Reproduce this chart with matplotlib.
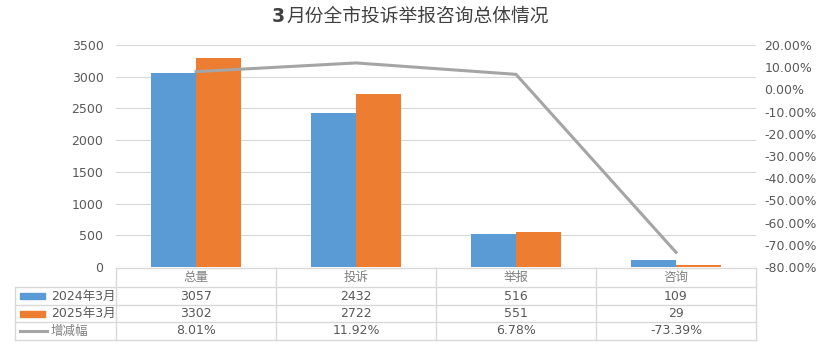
import matplotlib
matplotlib.use("Agg")
import matplotlib.pyplot as plt
from matplotlib.lines import Line2D
from matplotlib.patches import Rectangle
import numpy as np

categories = ["总量", "投诉", "举报", "咨询"]
series_names = ["2024年3月", "2025年3月", "增减幅"]
values_2024 = [3057, 2432, 516, 109]
values_2025 = [3302, 2722, 551, 29]
change_pct = [8.01, 11.92, 6.78, -73.39]
left_ticks = [0, 500, 1000, 1500, 2000, 2500, 3000, 3500]
right_ticks = [20, 10, 0, -10, -20, -30, -40, -50, -60, -70, -80]
title_num = "3"
title_rest = "月份全市投诉举报咨询总体情况"

C_BLUE = "#5b9bd5"
C_ORANGE = "#ed7d31"
C_GRAY = "#a5a5a5"
C_TEXT = "#595959"
C_GRID = "#d9d9d9"

FONTS = ["DejaVu Sans", "Noto Sans CJK SC"]
CJK = ["Noto Sans CJK SC", "DejaVu Sans"]
plt.rcParams["font.family"] = FONTS

W, H = 820, 351
fig = plt.figure(figsize=(W / 100, H / 100), dpi=100)

def fx(px):
    return px / W

def fy(py):
    return 1 - py / H

L, R, T, B = 116, 756, 45, 267
ax = fig.add_axes([fx(L), fy(B), fx(R) - fx(L), fy(T) - fy(B)])
x = np.arange(len(categories))
bw = 0.284
ax.bar(x - bw / 2, values_2024, bw, color=C_BLUE, zorder=3)
ax.bar(x + bw / 2, values_2025, bw, color=C_ORANGE, zorder=3)
ax.set_xlim(-0.5, len(categories) - 0.5)
ax.set_ylim(0, 3500)
ax.set_yticks(left_ticks)
ax.set_yticklabels([str(t) for t in left_ticks])
ax.yaxis.grid(True, color=C_GRID, linewidth=0.8, zorder=0)
ax.set_xticks([])
for s in ax.spines.values():
    s.set_visible(False)
ax.tick_params(axis="y", length=0, labelsize=9, colors=C_TEXT, pad=9)

ax2 = ax.twinx()
ax2.plot(x, change_pct, color=C_GRAY, linewidth=2.2, zorder=4)
ax2.set_ylim(-80, 20)
ax2.set_yticks(right_ticks)
ax2.set_yticklabels([f"{t:.2f}%" for t in right_ticks])
ax2.tick_params(axis="y", length=0, labelsize=9, colors=C_TEXT, pad=6)
for s in ax2.spines.values():
    s.set_visible(False)
ax2.set_xlim(-0.5, len(categories) - 0.5)

# title with bold digit, centred as a whole
renderer = fig.canvas.get_renderer()
t1 = fig.text(0, fy(16), title_num, ha="left", va="center", fontsize=13.5,
              fontweight="bold", color="#404040", family=FONTS)
t2 = fig.text(0, fy(16), title_rest, ha="left", va="center", fontsize=13.5,
              color="#404040", family=CJK)
w1 = t1.get_window_extent(renderer).width
w2 = t2.get_window_extent(renderer).width
start = (W - (w1 + w2)) / 2
t1.set_x(fx(start))
t2.set_x(fx(start + w1 + 1))

# data table
def hline(x0, x1, y):
    fig.add_artist(Line2D([fx(x0), fx(x1)], [fy(y), fy(y)], color=C_GRID,
                          linewidth=1, transform=fig.transFigure))

def vline(xp, y0, y1):
    fig.add_artist(Line2D([fx(xp), fx(xp)], [fy(y0), fy(y1)], color=C_GRID,
                          linewidth=1, transform=fig.transFigure))

rows_y = [268, 287, 305, 322, 340]
col_x = [L + i * (R - L) / len(categories) for i in range(len(categories) + 1)]
hline(L, R, rows_y[0])
for yy in rows_y[1:]:
    hline(15, R, yy)
for xx in col_x:
    vline(xx, rows_y[0], rows_y[-1])
vline(15, rows_y[1], rows_y[-1])

for i, c in enumerate(categories):
    cx = (col_x[i] + col_x[i + 1]) / 2
    fig.text(fx(cx), fy((rows_y[0] + rows_y[1]) / 2), c, ha="center", va="center",
             fontsize=9, color="#7f7f7f", family=CJK)
    texts = [str(values_2024[i]), str(values_2025[i]), f"{change_pct[i]:.2f}%"]
    for r, t in enumerate(texts):
        yc = (rows_y[r + 1] + rows_y[r + 2]) / 2
        fig.text(fx(cx), fy(yc), t, ha="center", va="center", fontsize=9, color=C_TEXT)

for r, name in enumerate(series_names):
    yc = (rows_y[r + 1] + rows_y[r + 2]) / 2
    if r < 2:
        col = [C_BLUE, C_ORANGE][r]
        fig.add_artist(Rectangle((fx(20), fy(yc + 3)), fx(45) - fx(20), fy(yc - 3) - fy(yc + 3),
                                 transform=fig.transFigure, color=col))
    else:
        fig.add_artist(Line2D([fx(20), fx(47)], [fy(yc), fy(yc)], color=C_GRAY,
                              linewidth=2.2, transform=fig.transFigure))
    fig.text(fx(51), fy(yc), name, ha="left", va="center", fontsize=9,
             color=C_TEXT if r < 2 else "#7f7f7f", family=FONTS)

fig.savefig("out.png", dpi=100)
